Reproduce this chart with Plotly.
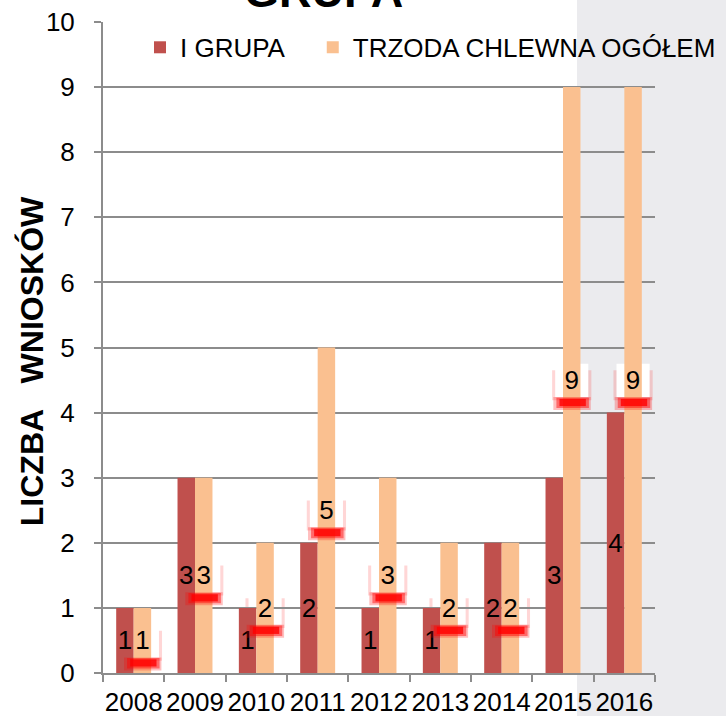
import plotly.graph_objects as go

years = ["2008", "2009", "2010", "2011", "2012", "2013", "2014", "2015", "2016"]
grupa_i = [1, 3, 1, 2, 1, 1, 2, 3, 4]
trzoda = [1, 3, 2, 5, 3, 2, 2, 9, 9]

name_a = "I GRUPA"
name_b = "TRZODA CHLEWNA OGÓŁEM"
title_text = "GRUPA"
y_title = "LICZBA   WNIOSKÓW"

FONT = "Liberation Sans, Arial, sans-serif"
RED = "#C0504D"
PEACH = "#FAC090"
GRID = "#8C8C8C"

fig = go.Figure()
fig.add_trace(go.Bar(
    x=years, y=grupa_i, name=name_a, marker=dict(color=RED, line=dict(width=0)),
    text=[str(v) for v in grupa_i], textposition="inside", insidetextanchor="middle",
    constraintext="none", textfont=dict(family=FONT, size=26, color="black"),
    textangle=0, legend="legend",
))
fig.add_trace(go.Bar(
    x=years, y=trzoda, name=name_b, marker=dict(color=PEACH, line=dict(width=0)),
    text=[str(v) for v in trzoda], textposition="inside", insidetextanchor="middle",
    constraintext="none", textfont=dict(family=FONT, size=26, color="black"),
    textangle=0, legend="legend2",
))

BARGAP = 0.43
half_bar = (1 - BARGAP) / 4  # offset of each bar centre from the category centre

shapes = []
# grey panel on the right
shapes.append(dict(type="rect", xref="paper", yref="paper", x0=0.8587, x1=1.2,
                   y0=-0.2, y1=1.2, fillcolor="#EBEBEE", line=dict(width=0), layer="below"))

for i, v in enumerate(trzoda):
    pc = i + half_bar
    mid = v / 2
    bx0, bx1 = pc - 0.27, pc + 0.27
    by0, by1 = mid - 0.26, mid + 0.23
    # soft pink halo (visible at the box sides)
    shapes.append(dict(type="rect", xref="x", yref="y", x0=bx0 - 0.05, x1=bx1 + 0.05,
                       y0=by0 - 0.05, y1=by1 - 0.08, fillcolor="rgba(255,0,0,0.16)",
                       line=dict(width=0), layer="below"))
    # white label box
    shapes.append(dict(type="rect", xref="x", yref="y", x0=bx0, x1=bx1,
                       y0=by0, y1=by1 + 0.02, fillcolor="white",
                       line=dict(width=0), layer="below"))
    # red glow under the box
    shapes.append(dict(type="rect", xref="x", yref="y", x0=bx0 - 0.03, x1=bx1 + 0.04,
                       y0=by0 - 0.2, y1=by0, fillcolor="rgba(255,0,0,0.25)",
                       line=dict(width=0), layer="above"))
    shapes.append(dict(type="rect", xref="x", yref="y", x0=bx0 + 0.02, x1=bx1 + 0.01,
                       y0=by0 - 0.17, y1=by0 - 0.01, fillcolor="rgba(255,0,0,0.45)",
                       line=dict(width=0), layer="above"))
    shapes.append(dict(type="rect", xref="x", yref="y", x0=bx0 + 0.07, x1=bx1 - 0.04,
                       y0=by0 - 0.14, y1=by0 - 0.03, fillcolor="rgba(255,0,0,0.8)",
                       line=dict(width=0), layer="above"))

fig.update_layout(
    width=726, height=716,
    margin=dict(l=103, r=71, t=22, b=43, autoexpand=False),
    paper_bgcolor="white", plot_bgcolor="rgba(0,0,0,0)",
    barmode="group", bargap=BARGAP, bargroupgap=0,
    font=dict(family=FONT, size=26, color="black"),
    shapes=shapes,
    showlegend=True,
    legend=dict(orientation="h", x=0.067, xanchor="left", y=0.961, yanchor="middle",
                bgcolor="rgba(0,0,0,0)", font=dict(size=26, color="black"),
                itemwidth=30, borderwidth=0),
    legend2=dict(orientation="h", x=0.380, xanchor="left", y=0.961, yanchor="middle",
                 bgcolor="rgba(0,0,0,0)", font=dict(size=26, color="black"),
                 itemwidth=30, borderwidth=0),
    xaxis=dict(type="category", tickson="boundaries", ticks="outside", ticklen=7,
               tickwidth=2, tickcolor=GRID, showline=True, linecolor=GRID, linewidth=2,
               showgrid=False, tickangle=0, tickfont=dict(size=26, color="black"),
               ticklabelstandoff=5, fixedrange=True),
    yaxis=dict(range=[0, 10], dtick=1, ticks="outside", ticklen=7, tickwidth=2,
               tickcolor=GRID, showline=True, linecolor=GRID, linewidth=2,
               showgrid=True, gridcolor=GRID, gridwidth=2, zeroline=False,
               tickfont=dict(size=26, color="black"), ticklabelstandoff=14, fixedrange=True),
    annotations=[
        dict(text=f"<b>{title_text}</b>", xref="paper", yref="paper", x=0.3986, y=1.004,
             xanchor="center", yanchor="bottom", showarrow=False,
             font=dict(size=45, color="black", family=FONT)),
        dict(text=f"<b>{y_title}</b>", xref="paper", yref="paper", x=-0.1286, y=0.479,
             xanchor="center", yanchor="middle", showarrow=False, textangle=-90,
             font=dict(size=32, color="black", family=FONT)),
    ],
)

fig.write_html("out.html", config={"displayModeBar": False},
               post_script="document.body.style.margin='0';document.body.style.padding='0';")
